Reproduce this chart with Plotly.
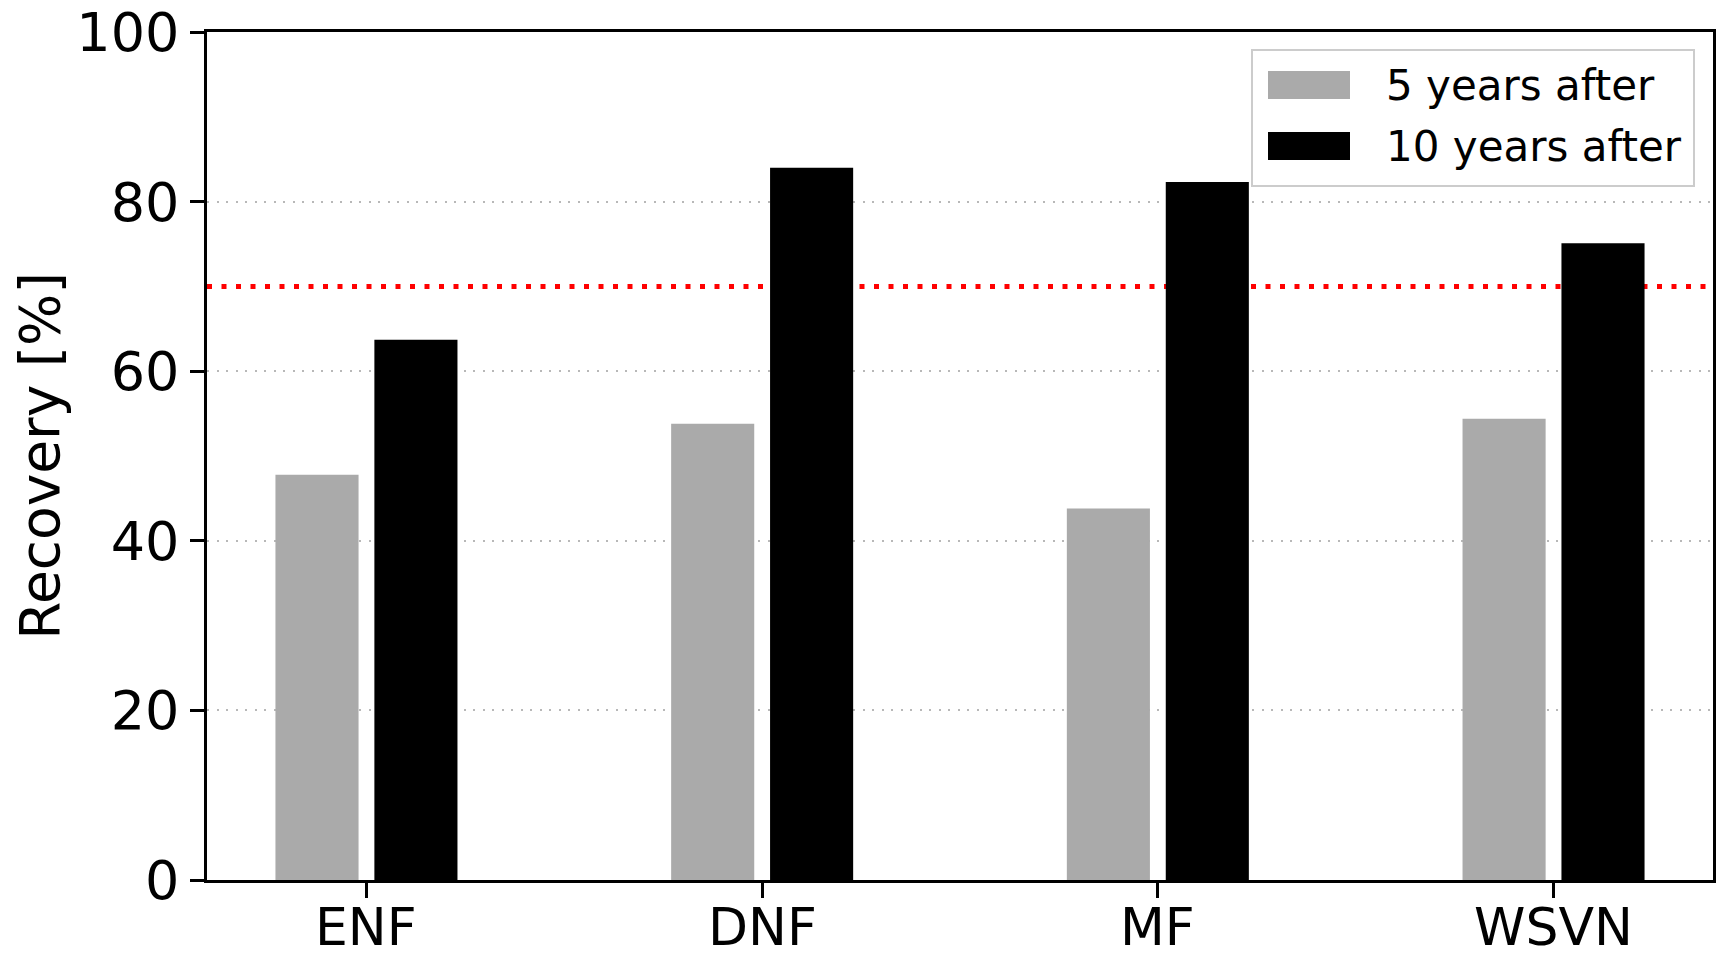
import plotly.graph_objects as go

categories = ["ENF", "DNF", "MF", "WSVN"]
five_years = [47.8, 53.8, 43.8, 54.4]
ten_years = [63.7, 84.0, 82.3, 75.1]
threshold = 70
series_names = ["5 years after", "10 years after"]
series_colors = ["#aaaaaa", "#000000"]
y_ticks = [0, 20, 40, 60, 80, 100]

FONT = "DejaVu Sans"
W, H = 1725, 959
ML, MR, MT, MB = 207, 12, 32, 79
PW, PH = W - ML - MR, H - MT - MB


def px_x(px):
    return (px - ML) / PW


def px_y(py):
    return (H - MB - py) / PH


fig = go.Figure()
for name, vals, col in zip(series_names, [five_years, ten_years], series_colors):
    fig.add_trace(go.Bar(x=categories, y=vals, name=name, showlegend=False,
                         marker=dict(color=col, line=dict(width=0))))

fig.add_shape(type="line", xref="paper", x0=0, x1=1, yref="y", y0=threshold, y1=threshold,
              line=dict(color="#ff0000", width=5, dash="5px,9.5px"), layer="below")

# category labels under the axis (placed through the x scale)
for c in categories:
    fig.add_annotation(x=c, xref="x", y=0, yref="paper", yanchor="top", yshift=-16,
                       text=c, showarrow=False, borderpad=0,
                       font=dict(family=FONT, size=52, color="black"))

# legend box (matplotlib-style framed legend)
fig.add_shape(type="rect", xref="paper", yref="paper",
              x0=px_x(1252), x1=px_x(1694), y0=px_y(186), y1=px_y(50),
              line=dict(color="#cccccc", width=2), fillcolor="rgba(255,255,255,0.8)", layer="above")
rows = [(71, 99), (132, 160)]
for (top, bot), name, col in zip(rows, series_names, series_colors):
    fig.add_shape(type="rect", xref="paper", yref="paper",
                  x0=px_x(1268), x1=px_x(1350), y0=px_y(bot), y1=px_y(top),
                  line=dict(width=0), fillcolor=col, layer="above")
    fig.add_annotation(xref="paper", yref="paper", x=px_x(1384), y=px_y((top + bot) / 2 + 1),
                       text=name, showarrow=False, xanchor="left", yanchor="middle",
                       font=dict(family=FONT, size=42, color="black"))

fig.update_layout(
    width=W, height=H,
    margin=dict(l=ML, r=MR, t=MT, b=MB),
    paper_bgcolor="white", plot_bgcolor="white",
    barmode="group", bargap=0.5, bargroupgap=0.16,
    font=dict(family=FONT, size=55, color="black"),
    showlegend=False,
)
fig.update_xaxes(range=[-0.403, 3.403], showline=True, mirror=True, linecolor="black", linewidth=2.5,
                 ticks="outside", ticklen=15, tickwidth=2.5, tickcolor="black", showgrid=False,
                 showticklabels=False, automargin=False)
fig.update_yaxes(range=[0, 100], tickvals=y_ticks, showline=True, mirror=True, linecolor="black",
                 linewidth=2.5, ticks="outside", ticklen=14, tickwidth=2.5, tickcolor="black",
                 showgrid=True, gridcolor="#b8b8b8", gridwidth=1.5, griddash="2px,7.5px",
                 zeroline=False, tickfont=dict(family=FONT, size=54), ticklabeloverflow="allow",
                 automargin=False,
                 title=dict(text="Recovery [%]", font=dict(family=FONT, size=55), standoff=0))

fig.write_html("out.html", config={"displayModeBar": False},
               post_script="document.body.style.margin='0';document.body.style.overflow='hidden';")
